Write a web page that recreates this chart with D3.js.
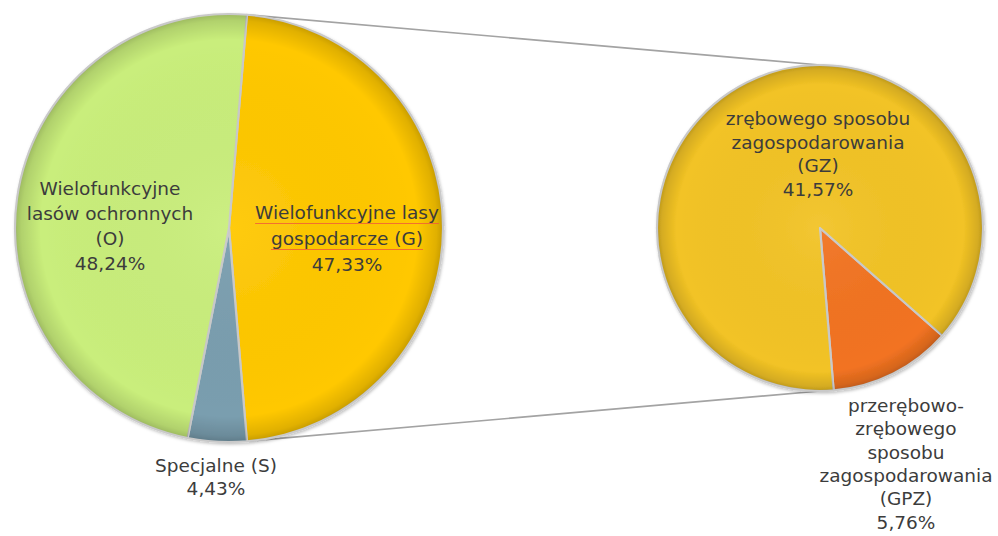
<!DOCTYPE html>
<html>
<head>
<meta charset="utf-8">
<script src="https://cdn.jsdelivr.net/npm/d3@7"></script>
<style>
  body { margin: 0; background: #fff; }
  svg { display: block; }
</style>
</head>
<body>
<div class="vis-pie"></div>
<script>
// lasy wg funkcji (%) - kolejnosc: G, S, O
const mainNames = ["G", "S", "O"];
const mainValues = [47.33, 4.43, 48.24];
const mainLabels = [
    ["Wielofunkcyjne lasy", "gospodarcze (G)", "47,33%"],
    ["Specjalne (S)", "4,43%"],
    ["Wielofunkcyjne", "lasów ochronnych", "(O)", "48,24%"]
];
// podzial lasow gospodarczych (G)
const subNames = ["GPZ", "GZ"];
const subValues = [5.76, 41.57];
const subLabels = [
    ["przerębowo-", "zrębowego", "sposobu", "zagospodarowania", "(GPZ)", "5,76%"],
    ["zrębowego sposobu", "zagospodarowania", "(GZ)", "41,57%"]
];

const draw = () => {
    const width = 998, height = 536;
    const tau = 2 * Math.PI;

    const colors = {G: "#FFC800", S: "#7A9EAF", O: "#C9EE7B", GPZ: "#F27321", GZ: "#F2C325"};

    const mainR = 214, mainC = [229, 228];
    const subR = 163, subC = [820, 228];

    // label anchors (offset od srodka kola, pierwsza linia)
    const mainLabelPos = [[118, -9, 26], [-13, 244, 23], [-119, -33, 25]];
    const subLabelPos = [[86, 184, 23.3], [-2, -103, 23.7]];

    const svg = d3.select('.vis-pie')
        .append('svg')
        .attr('width', width)
        .attr('height', height)
        .style('font', '18.5px "DejaVu Sans", sans-serif');

    svg.append('rect').attr('width', width).attr('height', height).attr('fill', '#fff');

    const defs = svg.append('defs');

    const shadow = defs.append('filter').attr('id', 'shadow')
        .attr('x', '-10%').attr('y', '-10%').attr('width', '120%').attr('height', '120%');
    shadow.append('feDropShadow')
        .attr('dx', 1).attr('dy', 1.5).attr('stdDeviation', 1.8)
        .attr('flood-color', '#000').attr('flood-opacity', 0.25);

    function rimGradient(id, r) {
        const g = defs.append('radialGradient').attr('id', id)
            .attr('gradientUnits', 'userSpaceOnUse')
            .attr('cx', 0).attr('cy', 0).attr('r', r);
        g.append('stop').attr('offset', 0).attr('stop-color', '#fff').attr('stop-opacity', 0.06);
        g.append('stop').attr('offset', 0.88).attr('stop-color', '#000').attr('stop-opacity', 0);
        g.append('stop').attr('offset', 0.97).attr('stop-color', '#000').attr('stop-opacity', 0.12);
        g.append('stop').attr('offset', 1).attr('stop-color', '#000').attr('stop-opacity', 0.22);
    }
    rimGradient('rimMain', mainR);
    rimGradient('rimSub', subR);

    // kolo glowne - G wysrodkowane po prawej stronie
    const gShare = mainValues[0] / d3.sum(mainValues);
    const mainStart = Math.PI / 2 - gShare * Math.PI;
    const pieMain = d3.pie().sort(null).value(d => d)
        .startAngle(mainStart).endAngle(mainStart + tau);
    const mainArcs = pieMain(mainValues);

    // kolo dodatkowe
    const gEnd = mainArcs[0].endAngle;
    const gpzAngle = subValues[0] / d3.sum(subValues) * tau;
    const subStart = gEnd - gpzAngle;
    const pieSub = d3.pie().sort(null).value(d => d)
        .startAngle(subStart).endAngle(subStart + tau);
    const subArcs = pieSub(subValues);

    const polar = (c, r, a) => [c[0] + r * Math.sin(a), c[1] - r * Math.cos(a)];

    // linie laczace
    const p1 = polar(mainC, mainR, mainArcs[0].startAngle);
    const p2 = polar(mainC, mainR, mainArcs[0].endAngle);
    const connectors = [
        [p1, [subC[0], subC[1] - subR]],
        [p2, [subC[0], subC[1] + subR]]
    ];
    svg.append('g')
        .selectAll('line')
        .data(connectors)
        .join('line')
        .attr('x1', d => d[0][0]).attr('y1', d => d[0][1])
        .attr('x2', d => d[1][0]).attr('y2', d => d[1][1])
        .attr('stroke', '#a3a3a3')
        .attr('stroke-width', 1.6);

    function drawPie(arcs, names, c, r, rimId) {
        const arc = d3.arc().innerRadius(0).outerRadius(r);
        const g = svg.append('g')
            .attr('transform', `translate(${c[0]},${c[1]})`)
            .attr('filter', 'url(#shadow)');
        const slices = g.selectAll('g.slice')
            .data(arcs)
            .join('g')
            .attr('class', 'slice');
        slices.append('path')
            .attr('d', arc)
            .attr('fill', (d, i) => colors[names[i]])
            .attr('stroke', '#c9c9c9')
            .attr('stroke-width', 2.2)
            .attr('stroke-linejoin', 'round');
        slices.append('path')
            .attr('d', d3.arc().innerRadius(0).outerRadius(r - 1))
            .attr('fill', `url(#${rimId})`);
        return g;
    }

    drawPie(mainArcs, mainNames, mainC, mainR, 'rimMain');
    drawPie(subArcs, subNames, subC, subR, 'rimSub');

    function drawLabels(labels, pos, c, underline) {
        labels.forEach((lines, i) => {
            const [dx, dy, lh] = pos[i];
            const t = svg.append('g');
            lines.forEach((line, j) => {
                const txt = t.append('text')
                    .attr('x', c[0] + dx)
                    .attr('y', c[1] + dy + j * lh)
                    .attr('text-anchor', 'middle')
                    .attr('fill', '#3c3c3c')
                    .text(line);
                if (underline && underline[i] && j < underline[i]) {
                    const w = txt.node().getComputedTextLength();
                    t.append('line')
                        .attr('x1', c[0] + dx - w / 2)
                        .attr('x2', c[0] + dx + w / 2)
                        .attr('y1', c[1] + dy + j * lh + 4.5)
                        .attr('y2', c[1] + dy + j * lh + 4.5)
                        .attr('stroke', '#f05a3a')
                        .attr('stroke-opacity', 0.8)
                        .attr('stroke-width', 1);
                }
            });
        });
    }

    // podkreslenia (sprawdzanie pisowni) pod etykieta G
    drawLabels(mainLabels, mainLabelPos, mainC, [2, 0, 0]);
    drawLabels(subLabels, subLabelPos, subC, null);
};

draw();
</script>
</body>
</html>
